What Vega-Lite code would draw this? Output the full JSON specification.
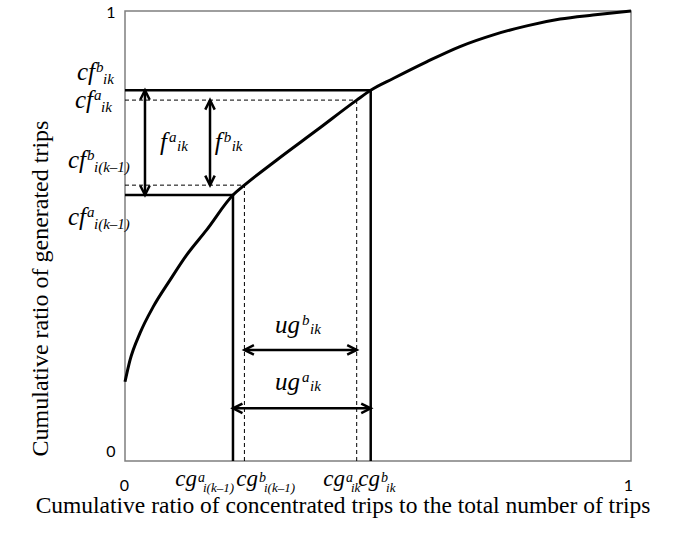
{
  "$schema": "https://vega.github.io/schema/vega-lite/v6.json",
  "width": 506,
  "height": 450,
  "autosize": {"type": "none"},
  "padding": {"left": 125, "top": 11, "right": 65, "bottom": 77},
  "background": "white",
  "config": {"view": {"stroke": "#7f7f7f", "strokeWidth": 1.5}},
  "datasets": {
    "curve": [
      {"x": 0, "y": 0.176}, {"x": 0.0099, "y": 0.224}, {"x": 0.0296, "y": 0.284},
      {"x": 0.0559, "y": 0.343}, {"x": 0.0889, "y": 0.402}, {"x": 0.122, "y": 0.458},
      {"x": 0.161, "y": 0.513}, {"x": 0.2134, "y": 0.591}, {"x": 0.236, "y": 0.613},
      {"x": 0.30, "y": 0.669}, {"x": 0.38, "y": 0.736}, {"x": 0.4579, "y": 0.802},
      {"x": 0.4856, "y": 0.824}, {"x": 0.53, "y": 0.85}, {"x": 0.596, "y": 0.887},
      {"x": 0.662, "y": 0.921}, {"x": 0.728, "y": 0.947}, {"x": 0.794, "y": 0.967},
      {"x": 0.86, "y": 0.982}, {"x": 0.925, "y": 0.991}, {"x": 1, "y": 1}
    ],
    "guides": [
      {"set": "outer", "x": 0, "y": 0.824, "x2": 0.4856, "y2": 0.824},
      {"set": "outer", "x": 0, "y": 0.591, "x2": 0.2134, "y2": 0.591},
      {"set": "outer", "x": 0.2134, "y": 0, "x2": 0.2134, "y2": 0.591},
      {"set": "outer", "x": 0.4856, "y": 0, "x2": 0.4856, "y2": 0.824},
      {"set": "inner", "x": 0, "y": 0.802, "x2": 0.4579, "y2": 0.802},
      {"set": "inner", "x": 0, "y": 0.613, "x2": 0.236, "y2": 0.613},
      {"set": "inner", "x": 0.236, "y": 0, "x2": 0.236, "y2": 0.613},
      {"set": "inner", "x": 0.4579, "y": 0, "x2": 0.4579, "y2": 0.802}
    ],
    "arrows": [
      {"name": "f_a_ik", "x": 0.0395, "y": 0.591, "x2": 0.0395, "y2": 0.824},
      {"name": "f_b_ik", "x": 0.168, "y": 0.613, "x2": 0.168, "y2": 0.802},
      {"name": "ug_b_ik", "x": 0.236, "y": 0.2467, "x2": 0.4579, "y2": 0.2467},
      {"name": "ug_a_ik", "x": 0.2134, "y": 0.1171, "x2": 0.4856, "y2": 0.1171}
    ],
    "labels": [
      {"grp": "y", "x": -0.0593, "y": 0.8467, "base": "cf", "sup": "b", "sub": "ik"},
      {"grp": "y", "x": -0.0632, "y": 0.785, "base": "cf", "sup": "a", "sub": "ik"},
      {"grp": "y", "x": -0.0771, "y": 0.6511, "base": "cf", "sup": "b", "sub": "i(k–1)"},
      {"grp": "y", "x": -0.0771, "y": 0.5244, "base": "cf", "sup": "a", "sub": "i(k–1)"},
      {"grp": "x", "x": 0.1423, "y": -0.0549, "base": "cg", "sup": "a", "sub": "i(k–1)"},
      {"grp": "x", "x": 0.2628, "y": -0.0549, "base": "cg", "sup": "b", "sub": "i(k–1)"},
      {"grp": "x", "x": 0.4348, "y": -0.0549, "base": "cg", "sup": "a", "sub": "ik"},
      {"grp": "x", "x": 0.504, "y": -0.0549, "base": "cg", "sup": "b", "sub": "ik"},
      {"grp": "in", "x": 0.083, "y": 0.6922, "base": "f", "sup": "a", "sub": "ik"},
      {"grp": "in", "x": 0.191, "y": 0.6922, "base": "f", "sup": "b", "sub": "ik"},
      {"grp": "in", "x": 0.3458, "y": 0.2844, "base": "ug", "sup": "b", "sub": "ik"},
      {"grp": "in", "x": 0.3458, "y": 0.1578, "base": "ug", "sup": "a", "sub": "ik"}
    ]
  },
  "encoding": {
    "x": {
      "field": "x", "type": "quantitative",
      "scale": {"domain": [0, 1], "nice": false, "zero": false},
      "axis": {
        "values": [0, 1], "format": "d", "domain": false, "ticks": false, "grid": false,
        "labelFont": "Lato", "labelFontSize": 16, "labelColor": "black", "labelPadding": 16,
        "labelFlush": false, "labelOverlap": false,
        "labelOffset": {"condition": {"test": "datum.value == 1", "value": -3}, "value": -1},
        "title": "Cumulative ratio of concentrated trips to the total number of trips",
        "titleFont": "Liberation Serif", "titleFontSize": 23.5, "titleFontWeight": "normal",
        "titleColor": "black", "titleX": 217.5, "titleY": 51, "titleAlign": "center",
        "titleBaseline": "alphabetic"
      }
    },
    "y": {
      "field": "y", "type": "quantitative",
      "scale": {"domain": [0, 1], "nice": false, "zero": false},
      "axis": {
        "values": [0, 1], "format": "d", "domain": false, "ticks": false, "grid": false,
        "labelFont": "Lato", "labelFontSize": 16, "labelColor": "black", "labelPadding": 10,
        "labelFlush": false, "labelOverlap": false,
        "labelOffset": {"condition": {"test": "datum.value == 0", "value": -10}, "value": 1.5},
        "title": "Cumulative ratio of generated trips",
        "titleFont": "Liberation Serif", "titleFontSize": 24, "titleFontWeight": "normal",
        "titleColor": "black", "titleX": -78, "titleY": 277, "titleAngle": 270,
        "titleAlign": "center", "titleBaseline": "alphabetic"
      }
    }
  },
  "layer": [
    {
      "data": {"name": "guides"},
      "transform": [{"filter": "datum.set == 'inner'"}],
      "mark": {"type": "rule", "color": "black", "strokeWidth": 1, "strokeDash": [4, 3]},
      "encoding": {"x2": {"field": "x2"}, "y2": {"field": "y2"}}
    },
    {
      "data": {"name": "guides"},
      "transform": [{"filter": "datum.set == 'outer'"}],
      "mark": {"type": "rule", "color": "black", "strokeWidth": 2.5},
      "encoding": {"x2": {"field": "x2"}, "y2": {"field": "y2"}}
    },
    {
      "data": {"name": "curve"},
      "mark": {"type": "line", "interpolate": "monotone", "color": "black", "strokeWidth": 3},
      "encoding": {}
    },
    {
      "data": {"name": "arrows"},
      "mark": {"type": "rule", "color": "black", "strokeWidth": 2.5},
      "encoding": {"x2": {"field": "x2"}, "y2": {"field": "y2"}}
    },
    {
      "data": {"name": "arrows"},
      "transform": [
        {"calculate": "datum.x2 > datum.x ? 0 : (datum.x2 < datum.x ? 180 : (datum.y2 > datum.y ? 270 : 90))", "as": "ang"}
      ],
      "mark": {"type": "point", "shape": "M-2,-1L0,0L-2,1", "filled": false, "stroke": "black", "strokeWidth": 2.5, "size": 90, "opacity": 1, "strokeJoin": "miter"},
      "encoding": {
        "x": {"field": "x2", "type": "quantitative"},
        "y": {"field": "y2", "type": "quantitative"},
        "angle": {"field": "ang", "type": "quantitative", "scale": null}
      }
    },
    {
      "data": {"name": "arrows"},
      "transform": [
        {"calculate": "datum.x2 > datum.x ? 180 : (datum.x2 < datum.x ? 0 : (datum.y2 > datum.y ? 90 : 270))", "as": "ang"}
      ],
      "mark": {"type": "point", "shape": "M-2,-1L0,0L-2,1", "filled": false, "stroke": "black", "strokeWidth": 2.5, "size": 90, "opacity": 1, "strokeJoin": "miter"},
      "encoding": {
        "angle": {"field": "ang", "type": "quantitative", "scale": null}
      }
    },
    {
      "data": {"name": "labels"},
      "transform": [{"filter": "datum.grp != 'x'"}],
      "mark": {"type": "text", "font": "Liberation Serif, Times New Roman, serif", "fontStyle": "italic", "fontSize": 25, "align": "right", "baseline": "alphabetic", "color": "black"},
      "encoding": {"text": {"field": "base"}}
    },
    {
      "data": {"name": "labels"},
      "transform": [{"filter": "datum.grp == 'x'"}],
      "mark": {"type": "text", "font": "Liberation Serif, Times New Roman, serif", "fontStyle": "italic", "fontSize": 23, "align": "right", "baseline": "alphabetic", "color": "black"},
      "encoding": {"text": {"field": "base"}}
    },
    {
      "data": {"name": "labels"},
      "transform": [{"filter": "datum.grp == 'y'"}],
      "mark": {"type": "text", "font": "Liberation Serif, Times New Roman, serif", "fontStyle": "italic", "fontSize": 15, "align": "left", "baseline": "alphabetic", "color": "black", "dx": 1, "dy": -8},
      "encoding": {"text": {"field": "sup"}}
    },
    {
      "data": {"name": "labels"},
      "transform": [{"filter": "datum.grp == 'y'"}],
      "mark": {"type": "text", "font": "Liberation Serif, Times New Roman, serif", "fontStyle": "italic", "fontSize": 15, "align": "left", "baseline": "alphabetic", "color": "black", "dx": 8, "dy": 4},
      "encoding": {"text": {"field": "sub"}}
    },
    {
      "data": {"name": "labels"},
      "transform": [{"filter": "datum.grp == 'x'"}],
      "mark": {"type": "text", "font": "Liberation Serif, Times New Roman, serif", "fontStyle": "italic", "fontSize": 14, "align": "left", "baseline": "alphabetic", "color": "black", "dx": 1, "dy": -4},
      "encoding": {"text": {"field": "sup"}}
    },
    {
      "data": {"name": "labels"},
      "transform": [{"filter": "datum.grp == 'x'"}],
      "mark": {"type": "text", "font": "Liberation Serif, Times New Roman, serif", "fontStyle": "italic", "fontSize": 13, "align": "left", "baseline": "alphabetic", "color": "black", "dx": 6, "dy": 6},
      "encoding": {"text": {"field": "sub"}}
    },
    {
      "data": {"name": "labels"},
      "transform": [{"filter": "datum.grp == 'in'"}],
      "mark": {"type": "text", "font": "Liberation Serif, Times New Roman, serif", "fontStyle": "italic", "fontSize": 15, "align": "left", "baseline": "alphabetic", "color": "black", "dx": 2, "dy": -8},
      "encoding": {"text": {"field": "sup"}}
    },
    {
      "data": {"name": "labels"},
      "transform": [{"filter": "datum.grp == 'in'"}],
      "mark": {"type": "text", "font": "Liberation Serif, Times New Roman, serif", "fontStyle": "italic", "fontSize": 15, "align": "left", "baseline": "alphabetic", "color": "black", "dx": 10, "dy": 1},
      "encoding": {"text": {"field": "sub"}}
    }
  ]
}
